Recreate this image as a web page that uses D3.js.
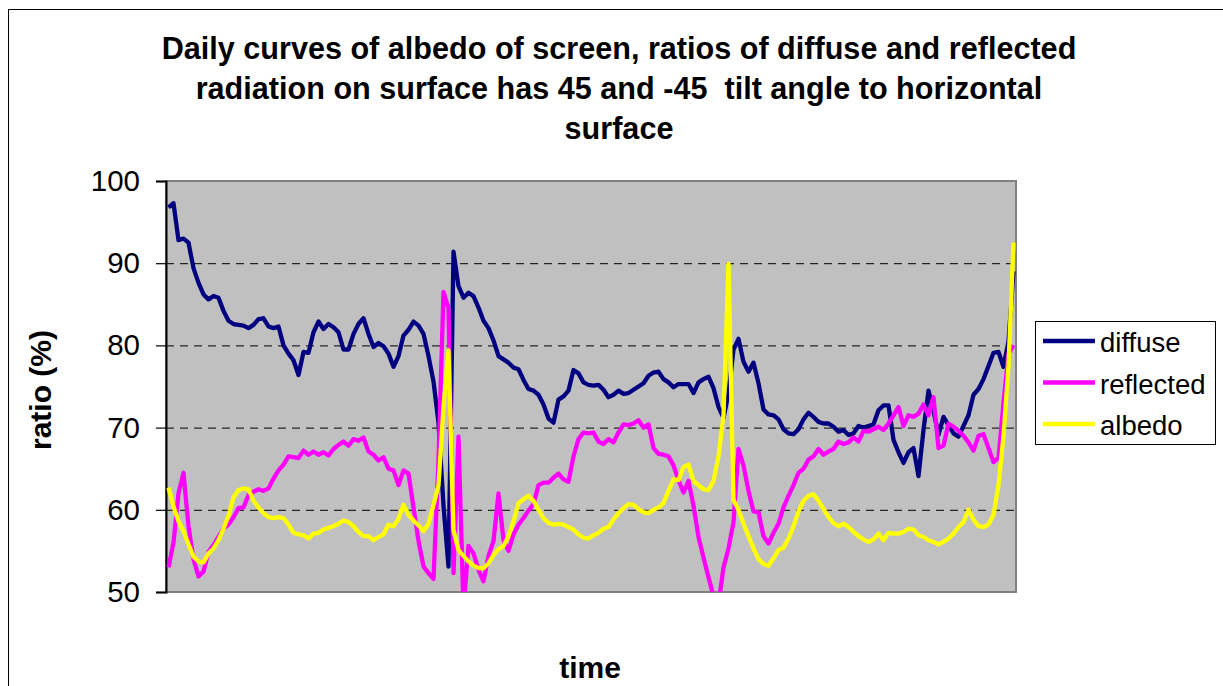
<!DOCTYPE html>
<html>
<head>
<meta charset="utf-8">
<script src="https://cdn.jsdelivr.net/npm/d3@7"></script>
<style>
  html, body { margin: 0; padding: 0; background: #fff; }
  svg { display: block; font-family: "Liberation Sans", Arial, sans-serif; }
  text { white-space: pre; }
</style>
</head>
<body>
<svg id="chart" width="1223" height="686"></svg>
<script>
// ---- data ----
const seriesNames = ["diffuse", "reflected", "albedo"];
const seriesColors = ["#000080", "#FF00FF", "#FFFF00"];
const yTicks = [50, 60, 70, 80, 90, 100];
const titleLines = [
  "Daily curves of albedo of screen, ratios of diffuse and reflected",
  "radiation on surface has 45 and -45  tilt angle to horizontal",
  "surface"
];

const diffuse = [
  96.8, 97.3, 92.8, 93.0, 92.5, 89.4, 87.6, 86.2, 85.6, 86.0,
  85.8, 84.2, 83.0, 82.6, 82.5, 82.4, 82.1, 82.5, 83.2, 83.3,
  82.3, 82.1, 82.3, 80.0, 79.0, 78.2, 76.4, 79.2, 79.1, 81.6,
  82.9, 82.0, 82.6, 82.2, 81.6, 79.5, 79.5, 81.4, 82.6, 83.3,
  81.4, 79.8, 80.3, 79.9, 79.0, 77.4, 78.7, 81.2, 81.9, 82.9,
  82.4, 81.4, 78.7, 75.6, 70.6, 60.5, 53.1, 91.4, 87.2, 85.8,
  86.4, 86.0, 84.6, 83.0, 82.1, 80.6, 78.7, 78.3, 77.9, 77.3,
  77.1, 75.8, 74.7, 74.5, 74.0, 72.8, 71.1, 70.6, 73.4, 73.8,
  74.5, 77.0, 76.6, 75.5, 75.2, 75.1, 75.2, 74.6, 73.7, 74.0,
  74.5, 74.1, 74.2, 74.6, 75.0, 75.4, 76.3, 76.7, 76.8, 75.9,
  75.5, 74.9, 75.3, 75.3, 75.3, 74.2, 75.5, 75.9, 76.2, 74.8,
  72.5, 71.2, 74.1, 79.5, 80.8, 78.0, 76.8, 77.9, 75.4, 72.2,
  71.6, 71.5, 71.0, 69.8, 69.3, 69.2, 69.8, 71.0, 71.8, 71.3,
  70.7, 70.5, 70.5, 70.1, 69.5, 69.7, 69.1, 69.3, 70.2, 70.0,
  70.2, 70.4, 72.1, 72.7, 72.7, 68.5, 67.0, 65.7, 67.0, 67.5,
  64.1, 69.7, 74.5, 72.0, 69.1, 71.3, 70.3, 69.3, 68.9, 70.2,
  71.5, 74.0, 74.7, 75.9, 77.5, 79.1, 79.2, 77.4, 80.5, 89.0
];

const reflected = [
  53.0, 56.0, 62.0, 64.5, 58.0, 54.0, 51.9, 52.5, 54.9, 55.7,
  56.7, 57.7, 58.2, 59.1, 60.2, 60.3, 61.8, 62.2, 62.5, 62.3,
  62.6, 63.8, 64.8, 65.5, 66.5, 66.4, 66.3, 67.2, 66.7, 67.1,
  66.7, 67.0, 66.6, 67.4, 67.9, 68.3, 67.8, 68.6, 68.4, 68.8,
  67.1, 66.7, 66.0, 66.4, 65.0, 64.8, 63.0, 64.8, 64.4, 60.3,
  56.2, 53.1, 52.3, 51.6, 66.0, 86.5, 84.5, 52.3, 68.9, 48.0,
  55.6, 54.7, 52.7, 51.3, 54.4, 56.2, 62.0, 56.3, 55.0, 57.0,
  58.2, 59.0, 59.9, 60.7, 63.0, 63.3, 63.3, 63.9, 64.4, 63.7,
  63.4, 66.5, 68.6, 69.4, 69.3, 69.4, 68.3, 68.0, 68.6, 68.2,
  69.4, 70.4, 70.3, 70.5, 70.9, 70.0, 70.4, 67.5, 66.8, 66.7,
  66.5, 65.4, 63.6, 62.1, 63.5, 60.5, 56.7, 54.2, 51.8, 49.5,
  48.5, 53.0, 55.3, 58.5, 67.4, 65.4, 62.3, 59.8, 59.7, 56.8,
  55.9, 57.2, 58.3, 60.3, 61.7, 63.0, 64.5, 65.0, 66.1, 66.5,
  67.4, 66.7, 67.1, 67.4, 68.3, 68.0, 68.2, 68.8, 68.3, 69.6,
  69.5, 69.8, 70.1, 69.7, 70.5, 71.5, 72.5, 70.2, 71.5, 71.3,
  71.7, 72.8, 71.5, 73.7, 67.5, 67.8, 70.5, 70.1, 69.6, 69.0,
  68.2, 67.2, 69.0, 69.2, 67.5, 65.8, 66.3, 73.0, 79.0, 80.0
];

const albedo = [
  62.7, 60.4, 58.6, 57.4, 55.8, 54.3, 53.7, 53.6, 54.7, 55.3,
  56.3, 57.7, 59.3, 61.5, 62.4, 62.6, 62.5, 61.1, 60.3, 59.6,
  59.1, 59.0, 59.1, 59.0, 58.2, 57.2, 57.0, 56.9, 56.5, 57.1,
  57.2, 57.6, 57.8, 58.0, 58.3, 58.7, 58.5, 58.0, 57.3, 56.8,
  56.8, 56.3, 56.7, 57.0, 58.2, 58.0, 58.9, 60.6, 59.4, 58.7,
  58.1, 57.4, 58.3, 60.6, 63.0, 72.5, 79.4, 57.5, 55.1, 54.4,
  53.7, 53.2, 52.9, 52.9, 53.5, 54.5, 55.2, 55.6, 56.8, 58.6,
  60.8, 61.3, 61.7, 61.1, 60.0, 59.0, 58.4, 58.2, 58.3, 58.2,
  57.9, 57.6, 57.0, 56.6, 56.5, 56.9, 57.2, 57.7, 57.9, 58.8,
  59.6, 60.2, 60.7, 60.6, 60.1, 59.7, 59.6, 60.0, 60.3, 60.8,
  62.3, 63.7, 63.6, 65.2, 65.5, 63.5, 63.0, 62.5, 62.4, 63.5,
  66.5, 71.5, 89.9, 61.2, 60.0, 58.3, 56.8, 55.3, 54.0, 53.4,
  53.2, 54.1, 55.1, 55.4, 56.5, 58.0, 59.8, 61.1, 61.7, 61.9,
  61.1, 60.1, 59.1, 58.4, 58.0, 58.3, 57.9, 57.3, 56.8, 56.4,
  56.1, 56.4, 57.1, 56.3, 57.2, 57.1, 57.1, 57.3, 57.7, 57.6,
  56.9, 56.7, 56.3, 56.1, 55.8, 56.1, 56.5, 57.1, 57.9, 58.5,
  60.0, 58.8, 58.0, 57.9, 58.2, 59.4, 63.0, 69.0, 77.5, 92.5
];

// ---- layout ----
const svg = d3.select("#chart");
const plot = { left: 166, top: 181, right: 1016, bottom: 592 };

// outer chart frame (right/bottom edges fall outside the picture)
svg.append("rect")
  .attr("x", 8.5).attr("y", 9.5)
  .attr("width", 1400).attr("height", 1000)
  .attr("fill", "#fff").attr("stroke", "#000").attr("stroke-width", 1);

const x = d3.scalePoint()
  .domain(d3.range(diffuse.length))
  .range([plot.left, plot.right])
  .padding(0.5);
const y = d3.scaleLinear().domain([50, 100]).range([plot.bottom, plot.top]);

// plot background
svg.append("rect")
  .attr("x", plot.left).attr("y", plot.top)
  .attr("width", plot.right - plot.left).attr("height", plot.bottom - plot.top)
  .attr("fill", "#C0C0C0");

// gridlines
svg.append("g")
  .selectAll("line")
  .data(yTicks.filter(t => t > 50 && t < 100))
  .join("line")
  .attr("x1", plot.left).attr("x2", plot.right)
  .attr("y1", d => y(d) + 0.5).attr("y2", d => y(d) + 0.5)
  .attr("stroke", "#000").attr("stroke-width", 1)
  .attr("stroke-dasharray", "8,6");

// plot border (grey)
svg.append("rect")
  .attr("x", plot.left).attr("y", plot.top)
  .attr("width", plot.right - plot.left).attr("height", plot.bottom - plot.top)
  .attr("fill", "none").attr("stroke", "#808080").attr("stroke-width", 2);

// clip
svg.append("clipPath").attr("id", "clip")
  .append("rect")
  .attr("x", plot.left).attr("y", plot.top)
  .attr("width", plot.right - plot.left).attr("height", plot.bottom - plot.top);

// y axis
const yAxis = d3.axisLeft(y).tickValues(yTicks).tickSize(10).tickPadding(16);
const gy = svg.append("g").attr("transform", `translate(${plot.left},0)`).call(yAxis);
gy.select(".domain").attr("stroke", "#000").attr("stroke-width", 2);
gy.selectAll(".tick line").attr("stroke", "#000").attr("stroke-width", 1.2);
gy.selectAll(".tick text")
  .attr("font-family", "Liberation Sans, Arial, sans-serif")
  .attr("font-size", 29.5).attr("fill", "#000");

// lines
const line = d3.line().x((d, i) => x(i)).y(d => y(d));
const allSeries = [diffuse, reflected, albedo];
svg.append("g").attr("clip-path", "url(#clip)")
  .selectAll("path")
  .data(allSeries)
  .join("path")
  .attr("d", d => line(d))
  .attr("fill", "none")
  .attr("stroke", (d, i) => seriesColors[i])
  .attr("stroke-width", 4.3)
  .attr("stroke-linejoin", "round");

// title
svg.append("g")
  .selectAll("text")
  .data(titleLines)
  .join("text")
  .attr("x", 619)
  .attr("y", (d, i) => 59 + i * 40)
  .attr("text-anchor", "middle")
  .attr("font-weight", "bold")
  .attr("font-size", 30.6)
  .attr("fill", "#000")
  .attr("xml:space", "preserve")
  .text(d => d);

// axis titles
svg.append("text")
  .attr("transform", "translate(51,390) rotate(-90)")
  .attr("text-anchor", "middle")
  .attr("font-weight", "bold").attr("font-size", 30)
  .text("ratio (%)");
svg.append("text")
  .attr("x", 590).attr("y", 678)
  .attr("text-anchor", "middle")
  .attr("font-weight", "bold").attr("font-size", 30)
  .text("time");

// legend
const legend = svg.append("g");
legend.append("rect")
  .attr("x", 1035.5).attr("y", 321.5)
  .attr("width", 180).attr("height", 123)
  .attr("fill", "#fff").attr("stroke", "#000").attr("stroke-width", 1);
const legendY = d3.scalePoint().domain(seriesNames).range([341, 424]);
const li = legend.selectAll("g.item").data(seriesNames).join("g").attr("class", "item");
li.append("line")
  .attr("x1", 1043).attr("x2", 1095)
  .attr("y1", d => legendY(d)).attr("y2", d => legendY(d))
  .attr("stroke", (d, i) => seriesColors[i]).attr("stroke-width", 4.3);
li.append("text")
  .attr("x", 1100).attr("y", d => legendY(d) + 11)
  .attr("font-size", 27.5).attr("fill", "#000")
  .text(d => d);
</script>
</body>
</html>
